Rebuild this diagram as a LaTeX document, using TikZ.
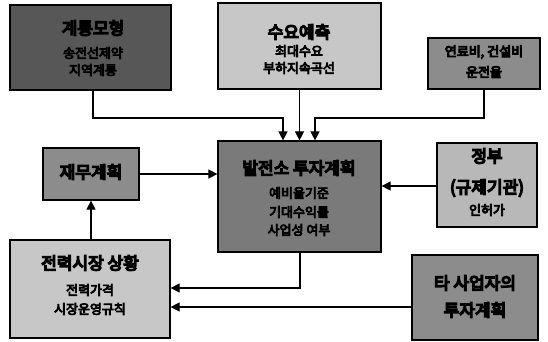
\documentclass[tikz,border=0pt]{standalone}
\usepackage{fontspec}
\newfontfamily\kr{Noto Sans CJK KR}
\newcommand\heavytxt[2]{\special{pdf:literal direct 2 Tr #1 w}#2\special{pdf:literal direct 0 Tr 1 w}}
\usetikzlibrary{arrows.meta}
\begin{document}
\begin{tikzpicture}[x=1pt,y=-1pt,
  box/.style={draw=black,line width=1.2pt,inner sep=0pt},
  ttl/.style={font=\kr\fontsize{17}{19}\selectfont,inner sep=0pt},
  sub/.style={font=\kr\fontsize{13}{15}\selectfont,inner sep=0pt},
  arr/.style={line width=1.1pt,-{Triangle[length=9pt,width=9pt]}}]
\useasboundingbox (0,0) rectangle (548,341);
% boxes
\node[box,fill=black!66,minimum width=161pt,minimum height=85pt] (gy) at (90.5,47.5) {};
\node[box,fill=black!22,minimum width=163pt,minimum height=86pt] (sy) at (299.5,46) {};
\node[box,fill=black!45,minimum width=112pt,minimum height=51pt] (yr) at (484,63.5) {};
\node[box,fill=black!45,minimum width=96pt,minimum height=52pt] (jm) at (91,174) {};
\node[box,fill=black!52,minimum width=163pt,minimum height=111pt] (bj) at (299.5,196.5) {};
\node[box,fill=black!28,minimum width=100pt,minimum height=84pt] (jb) at (487,185) {};
\node[box,fill=black!22,minimum width=160pt,minimum height=98pt] (jr) at (90,289) {};
\node[box,fill=black!45,minimum width=126pt,minimum height=85pt] (ts) at (475,297.5) {};
% texts
\node[ttl] (gyt) at (93,28) {\heavytxt{1.4}{계통모형}};
\node[sub] (gy1) at (93,53) {\heavytxt{0.8}{송전선제약}};
\node[sub] (gy2) at (93,70) {\heavytxt{0.8}{지역계통}};
\node[ttl] (syt) at (299,32) {\heavytxt{1.4}{수요예측}};
\node[sub] (sy1) at (299,51) {\heavytxt{0.8}{최대수요}};
\node[sub] (sy2) at (299,68) {\heavytxt{0.8}{부하지속곡선}};
\node[sub] (yr1) at (484,52) {\heavytxt{1}{연료비, 건설비}};
\node[sub] (yr2) at (484,72) {\heavytxt{1}{운전율}};
\node[ttl] (jmt) at (91,172) {\heavytxt{1.4}{재무계획}};
\node[ttl] (bjt) at (299,168) {\heavytxt{1.4}{발전소 투자계획}};
\node[sub] (bj1) at (299,193) {\heavytxt{0.8}{예비율기준}};
\node[sub] (bj2) at (299,212) {\heavytxt{0.8}{기대수익률}};
\node[sub] (bj3) at (299,230) {\heavytxt{0.8}{사업성 여부}};
\node[ttl] (jbt) at (487,156) {\heavytxt{1.4}{정부}};
\node[ttl] (jbt2) at (487,188) {\heavytxt{1.4}{(규제기관)}};
\node[sub] (jb1) at (487,210) {\heavytxt{0.8}{인허가}};
\node[ttl] (jrt) at (90,263) {\heavytxt{1.4}{전력시장 상황}};
\node[sub] (jr1) at (90,290) {\heavytxt{0.8}{전력가격}};
\node[sub] (jr2) at (90,309) {\heavytxt{0.8}{시장운영규칙}};
\node[ttl] (tst) at (475,283) {\heavytxt{1.4}{타 사업자의}};
\node[ttl] (ts2) at (475,310) {\heavytxt{1.4}{투자계획}};
% connectors
\coordinate (c1) at (93,118);
\coordinate (c2) at (283,118);
\coordinate (c3) at (484,118);
\coordinate (c4) at (315,118);
\draw[arr] (gy.south -| c1) -- (c1) -- (c2) -- (c2 |- bj.north);
\draw[arr] (sy.south) -- (bj.north);
\draw[arr] (yr.south -| c3) -- (c3) -- (c4) -- (c4 |- bj.north);
\draw[arr] (jm.east) -- (jm.east -| bj.west);
\coordinate (c5) at (437,186);
\draw[arr] (c5 -| jb.west) -- (c5 -| bj.east);
\draw[arr] (jr.north -| jm.south) -- (jm.south);
\coordinate (c6) at (300,288);
\draw[arr] (c6 |- bj.south) -- (c6) -- (c6 -| jr.east);
\coordinate (c7) at (412,307);
\draw[arr] (c7 -| ts.west) -- (c7 -| jr.east);
\end{tikzpicture}
\end{document}
